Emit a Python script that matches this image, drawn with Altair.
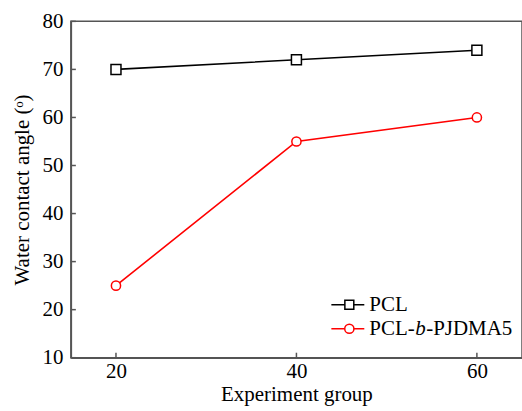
import altair as alt
import pandas as pd

groups = [20, 40, 60]
pcl = [70, 72, 74]
pcl_b = [25, 55, 60]
y_ticks = [10, 20, 30, 40, 50, 60, 70, 80]
x_ticks = [20, 40, 60]

FONT = "Liberation Serif"
W, H = 452, 337

df = pd.DataFrame({
    "x": groups * 2,
    "y": pcl + pcl_b,
    "s": ["PCL"] * 3 + ["PCL-b-PJDMA5"] * 3,
})

xs = alt.Scale(domain=[15, 65], nice=False)
ys = alt.Scale(domain=[10, 80], nice=False)
color = alt.Scale(domain=["PCL", "PCL-b-PJDMA5"], range=["#000000", "#ff0000"])

xenc = alt.X("x:Q", scale=xs, axis=alt.Axis(values=x_ticks, ticks=False, grid=False,
             title="Experiment group", labelFont=FONT, titleFont=FONT, labelFontSize=21,
             titleFontSize=21, labelColor="#000", titleColor="#000", titleFontWeight="normal",
             labelPadding=3, titlePadding=2, domainColor="#555", domainWidth=1.5))
yenc = alt.Y("y:Q", scale=ys, axis=alt.Axis(values=y_ticks, ticks=False, grid=False,
             title="Water contact angle (ᵒ)", labelFont=FONT, titleFont=FONT, labelFontSize=21,
             titleFontSize=21, labelColor="#000", titleColor="#000", titleFontWeight="normal",
             labelPadding=8, titlePadding=9, domainColor="#555", domainWidth=1.5))

lines = alt.Chart(df).mark_line(strokeWidth=1.6).encode(
    x=xenc, y=yenc,
    color=alt.Color("s:N", scale=color, legend=None),
    detail="s:N",
)

pts_sq = alt.Chart(df[df.s == "PCL"]).mark_point(shape="square", size=100, filled=True,
        fill="white", stroke="black", strokeWidth=1.5, opacity=1).encode(
    x=alt.X("x:Q", scale=xs), y=alt.Y("y:Q", scale=ys))
pts_ci = alt.Chart(df[df.s != "PCL"]).mark_point(shape="circle", size=85, filled=True,
        fill="white", stroke="#ff0000", strokeWidth=1.5, opacity=1).encode(
    x=alt.X("x:Q", scale=xs), y=alt.Y("y:Q", scale=ys))

ytk = alt.Chart(pd.DataFrame({"v": y_ticks})).mark_rule(color="#555", strokeWidth=1.5).encode(
    y=alt.Y("v:Q", scale=ys), x=alt.value(0), x2=alt.value(5))
xtk = alt.Chart(pd.DataFrame({"v": x_ticks})).mark_rule(color="#555", strokeWidth=1.5).encode(
    x=alt.X("v:Q", scale=xs), y=alt.value(H), y2=alt.value(H - 5))

# manual legend
leg = pd.DataFrame({"s": ["PCL", "PCL-b-PJDMA5"], "ly": [284, 308]})
leg_line = alt.Chart(leg).mark_rule(strokeWidth=1.6).encode(
    x=alt.value(261), x2=alt.value(294), y=alt.Y("ly:Q", scale=None),
    color=alt.Color("s:N", scale=color, legend=None))
leg_sq = alt.Chart(leg[leg.s == "PCL"]).mark_point(shape="square", size=80, filled=True,
        fill="white", stroke="black", strokeWidth=1.5, opacity=1).encode(
    x=alt.value(279), y=alt.Y("ly:Q", scale=None))
leg_ci = alt.Chart(leg[leg.s != "PCL"]).mark_point(shape="circle", size=85, filled=True,
        fill="white", stroke="#ff0000", strokeWidth=1.5, opacity=1).encode(
    x=alt.value(279), y=alt.Y("ly:Q", scale=None))

def txt(t, x, y, style="normal"):
    return alt.Chart(pd.DataFrame({"t": [t], "ly": [y]})).mark_text(
        font=FONT, fontSize=21, align="left", baseline="middle", color="black",
        fontStyle=style).encode(text="t:N", x=alt.value(x), y=alt.Y("ly:Q", scale=None))

leg_txt = txt("PCL", 299, 284) + txt("PCL-", 299, 308) + txt("b", 345, 308, "italic") + txt("-PJDMA5", 356, 308)

chart = alt.layer(lines, pts_sq, pts_ci, ytk, xtk, leg_line, leg_sq, leg_ci, leg_txt).properties(
    width=W, height=H,
    autosize=alt.AutoSizeParams(type="none"),
    padding={"left": 71, "top": 21, "right": 0, "bottom": 53},
).configure_view(stroke="#555", strokeWidth=1.5)

chart.save("out.html", embed_options={"renderer": "svg", "actions": False})
